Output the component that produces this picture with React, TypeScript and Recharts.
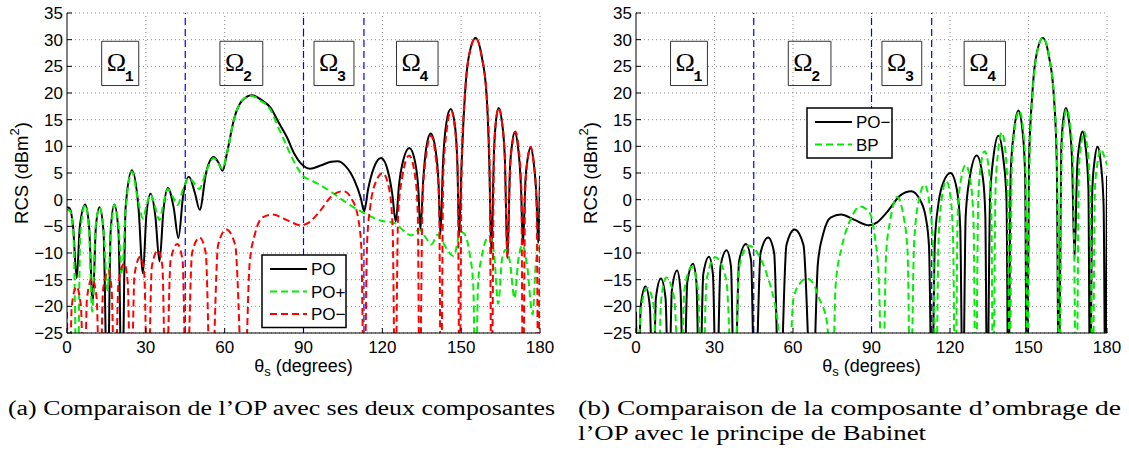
import React from 'react';
import {
  LineChart, Line, XAxis, YAxis, CartesianGrid, ReferenceLine, ReferenceArea, Label
} from 'recharts';

type Pt = [number, number];

// (theta_s in degrees, RCS in dBm2); -40 marks a null below the axis floor
const po: Pt[] = [
  [0, -1.4], [1, -1.6], [2.3, -5], [3.7, -14.7], [4.9, -5], [6.9, -0.9], [8.4, -5], [9.8, -19.5],
  [11, -5], [12.4, -1.4], [13.9, -6], [15.4, -40], [16.6, -6], [18, -0.9], [19.6, -6], [20.9, -40],
  [22.3, -1.5], [24.7, 5.5], [27.2, -1.5], [28.9, -13.8], [30.2, -3], [31.8, 1.1], [33.6, -3],
  [35.2, -11.6], [36.7, -2], [38.4, 2.2], [40.6, -1.5], [42.4, -7.2], [44.2, 0.8], [46.4, 4.3],
  [48.7, 1.2], [50.5, -1.9], [53, 5.2], [55.8, 8], [57.8, 6.8], [59.2, 5.4], [61, 9], [63.5, 15],
  [66.5, 18.5], [70.3, 19.6], [74, 18.7], [77.5, 17.2], [80.5, 14.5], [83.8, 11.6], [86.5, 8.6],
  [89, 6.8], [92.5, 5.8], [96.5, 6.4], [100.5, 7.1], [103, 7.2], [106, 6.3], [109.3, 3.7],
  [111.8, 0.3], [113.1, -2.2], [114.6, 2], [116.8, 6], [119.5, 7.8], [122.3, 5], [123.8, 1],
  [125.1, -4.1], [126.4, 3], [128, 7.5], [130.3, 9.7], [132.5, 7], [133.7, 2], [134.5, -5.6],
  [135.6, 4], [136.8, 10], [138.4, 12.4], [140.2, 9.5], [141.4, 3], [142.1, -6.6], [143.1, 7],
  [144.4, 14.5], [146, 17], [147.6, 14], [148.6, 6], [149.2, -6.9], [150.2, 7], [151.4, 19.4],
  [152.7, 26.2], [155.5, 30.3], [157.8, 26.9], [159.7, 19.4], [160.7, 7], [161.5, -10], [162.5, 9],
  [163.3, 15], [164.3, 17.2], [165.4, 15], [166.6, 8], [167.6, -10.9], [168.6, 6], [169.4, 10.5],
  [170.4, 12.6], [171.6, 10], [172.8, 2], [173.5, -8.4], [174.5, 4], [175.4, 8], [176.4, 9.7],
  [177.6, 7], [178.7, 0], [179.3, -8.1], [180, 4.5],
];

const poPlus: Pt[] = [
  [0, -1.9], [1, -2], [2.4, -6], [3.9, -40], [5.1, -6], [6.9, -1], [8.3, -5], [9.6, -21],
  [10.9, -5], [12.4, -1.5], [13.9, -5.5], [15.4, -17], [16.8, -5.5], [18, -1], [19.6, -5],
  [20.9, -14], [22.3, -2], [24.7, 5.3], [27, 0], [28.9, -3.5], [30.3, -1], [31.8, 1], [33.6, -1.5],
  [35.2, -3.8], [36.8, -0.5], [38.4, 2], [40.3, 0.5], [42, -1], [44.2, 2], [46.4, 4.1], [48.5, 3],
  [50.3, 2], [53, 5.3], [55.8, 7.8], [57.6, 6.8], [59.2, 5.8], [61, 9], [63.5, 15], [66.5, 18.5],
  [70, 19.5], [73.5, 18.6], [77.5, 16.8], [80, 14], [82.3, 11.5], [86, 7.5], [89.9, 4.4], [93, 3.6],
  [96.2, 2.8], [101.3, 1.2], [106.4, -0.6], [113, -2.5], [120, -4], [124.8, -4.4], [128, -5.8],
  [131, -6.7], [134, -5.6], [136.8, -7.3], [138.7, -8.4], [141, -6.6], [142.5, -7.5], [144.7, -9.4],
  [147.2, -10.6], [149.7, -6], [151, -6.3], [153.2, -10], [154.6, -16], [155.5, -40], [156.4, -16],
  [157.7, -11], [160.7, -6.8], [162.5, -10], [164.1, -19.5], [165.6, -11], [167, -9.4],
  [168.5, -11.5], [170.3, -18.5], [171.7, -11.5], [173.3, -8.5], [175, -12], [177.2, -21.5],
  [178.4, -12], [179.4, -9], [180, -9.2],
];

const poMinus: Pt[] = [
  [0, -21], [0.8, -40], [1.8, -20], [3.6, -16.3], [5.3, -20], [6.5, -40], [7.6, -18.5], [9.5, -14.8],
  [11.3, -18.5], [12.5, -40], [13.7, -17], [15.7, -13.3], [17, -17], [18.2, -40], [19.6, -15.5],
  [21.8, -12], [23.1, -15.5], [24.3, -40], [25.7, -14], [27.9, -10.7], [29.4, -14], [30.7, -40],
  [32.3, -12.5], [34.6, -9.5], [36.3, -12.5], [37.6, -40], [39.4, -11.5], [42, -8.3], [44, -11.5],
  [45.4, -40], [47.6, -10], [50.5, -7.1], [52.8, -10], [54.8, -40], [57.5, -8.5], [60.6, -5.6],
  [64, -8.5], [67.3, -40], [69.5, -12], [71.5, -6.5], [74.5, -3.3], [78.3, -2.8], [83.5, -3.8],
  [89, -4.8], [92, -4.3], [96, -2.3], [101, 0.8], [105.2, 1.6], [108.5, 0], [110.8, -3.5], [112, -9],
  [113.1, -40], [114.2, -8], [115.5, -1], [117.5, 3.3], [120.2, 5], [122.6, 2], [123.9, -5],
  [124.9, -40], [126, -3], [127.5, 4], [130.2, 8.3], [132.6, 4], [133.5, -3], [134.2, -40],
  [135.3, 0], [136.6, 8], [138.5, 12], [140.3, 8], [141.6, 0], [142.3, -40], [143.2, 5], [144.5, 13],
  [146.1, 16.7], [147.7, 13], [148.7, 5], [149.4, -40], [150.2, 7], [151.4, 19.4], [152.7, 26.2],
  [155.5, 30.3], [157.8, 26.9], [159.7, 19.4], [160.8, 7], [161.6, -40], [162.5, 9], [163.3, 15],
  [164.3, 17.2], [165.4, 15], [166.6, 8], [167.6, -11], [168.6, 6], [169.5, 10.5], [170.6, 12.8],
  [171.8, 10], [172.9, 2], [173.5, -40], [174.4, 2], [175.3, 7.5], [176.4, 9.9], [177.6, 7],
  [178.7, -1], [179.4, -40], [180, 4.5],
];

const bp: Pt[] = [
  [0.5, -40], [1.8, -21], [4.3, -16.5], [6.8, -20], [8.3, -40], [9.6, -19], [11.6, -14.6],
  [14.6, -18.5], [16.9, -40], [18.5, -17], [21.3, -12.6], [23.7, -17], [25.2, -40], [27, -15],
  [30.3, -10.8], [34.5, -15], [37.3, -40], [39.5, -12.5], [43, -8.6], [47, -10.5], [50, -14],
  [53.9, -22], [57.7, -40], [60.2, -18.5], [63, -15.5], [65.3, -14.8], [67.5, -15.5], [70, -18.5],
  [73, -23], [74.9, -40], [76.3, -16], [78.7, -8.8], [81.9, -3.8], [85.7, -1.3], [89.3, -2.5],
  [91.3, -7], [92.8, -15], [94.2, -40], [95.6, -10], [97.2, -3.8], [99.7, 0.5], [102.4, -3.5],
  [103.8, -10], [104.9, -40], [106.3, -8], [108.4, 0.6], [110.3, 2.8], [112.2, -1], [113.6, -10],
  [114.6, -40], [115.6, -8], [117, 0.8], [118.6, 3.5], [120.2, 0.5], [121.2, -8], [122, -40],
  [123, -2], [124.3, 4], [126, 6.5], [127.8, 3.5], [129, -4], [129.8, -40], [130.8, 0], [131.8, 6.5],
  [133.2, 9.1], [134.8, 6], [135.8, -2], [136.5, -40], [137.4, 2], [138.4, 9], [139.8, 12.6],
  [141.2, 9], [142.1, 0], [142.8, -40], [143.6, 6], [144.8, 13.5], [146.5, 16.7], [148, 13],
  [148.9, 5], [149.6, -40], [150.4, 7], [151.5, 19.4], [152.8, 26.2], [155.5, 30.4], [158, 26.5],
  [159.8, 19], [160.9, 7], [161.8, -40], [162.7, 9], [163.5, 14.5], [164.6, 17], [165.8, 14.5],
  [167, 7], [168.3, -40], [169.3, 6], [170.2, 10.5], [171.2, 12.8], [172.4, 10], [173.6, 0],
  [174.5, -40], [175.4, 2], [176.4, 7], [177.7, 9.5], [179, 8], [180, 6.5],
];

const xTicks = [0, 30, 60, 90, 120, 150, 180];
const yTicks = [-25, -20, -15, -10, -5, 0, 5, 10, 15, 20, 25, 30, 35];
const zoneLimits = [45, 90, 113];
const omegaZones = [
  { n: '1', x1: 13.2, x2: 27.3 },
  { n: '2', x1: 58.2, x2: 74.5 },
  { n: '3', x1: 94, x2: 109.2 },
  { n: '4', x1: 125.4, x2: 141.2 },
];
const omegaY: [number, number] = [21.4, 29.7];

const SANS = 'Liberation Sans, Arial, Helvetica, sans-serif';
const SERIF = 'Liberation Serif, Times New Roman, serif';
const GRID = '#8a8a8a';

const toRows = (pts: Pt[]) => pts.map(([x, y]) => ({ x, y }));
const fmtY = (v: number) => (v < 0 ? '\u2212' + Math.abs(v) : String(v));

const OmegaLabel = (props: any) => {
  const { x, y } = props.viewBox;
  return (
    <g>
      <text x={x + 5} y={y + 30} fontFamily={SERIF} fontSize={26} fill="#000">Ω</text>
      <text x={x + 23} y={y + 40} fontFamily="Liberation Mono, monospace" fontWeight="bold" fontSize={15} fill="#000">
        {props.n}
      </text>
    </g>
  );
};

const YTitle = (props: any) => {
  const { x, y, height } = props.viewBox;
  const cx = x + 14;
  const cy = y + height / 2;
  return (
    <text x={cx} y={cy} transform={`rotate(-90 ${cx} ${cy})`} textAnchor="middle" dominantBaseline="central"
      fontFamily={SANS} fontSize={18.5} fill="#000">
      RCS (dBm<tspan dy={-7} fontSize={13}>2</tspan><tspan dy={7}>)</tspan>
    </text>
  );
};

const XTitle = (props: any) => {
  const { x, y, width } = props.viewBox;
  return (
    <text x={x + width / 2} y={y + 39} textAnchor="middle" fontFamily={SANS} fontSize={18} fill="#000">
      θ<tspan dy={4} fontSize={13}>s</tspan><tspan dy={-4}> (degrees)</tspan>
    </text>
  );
};

type Series = { pts: Pt[]; color: string; dash?: string; name: string };

const Panel = ({ left, width, series }: { left: number; width: number; series: Series[] }) => (
  <div style={{ position: 'absolute', left, top: 0 }}>
    <LineChart width={width} height={380} margin={{ top: 13, right: 20, bottom: 17, left: 7 }}>
      <CartesianGrid stroke={GRID} strokeDasharray="1 3" vertical={false} />
      {xTicks.slice(1).map((t) => (
        <ReferenceLine key={'g' + t} x={t} stroke={GRID} strokeDasharray="1 3" />
      ))}
      <XAxis type="number" dataKey="x" domain={[0, 180]} ticks={xTicks} interval={0} allowDataOverflow
        height={30} tickSize={-5} tickMargin={13} axisLine={{ stroke: '#000' }} tickLine={{ stroke: '#000' }}
        tick={{ fill: '#000', fontSize: 17, fontFamily: SANS }}>
        <Label content={<XTitle />} />
      </XAxis>
      <YAxis type="number" domain={[-25, 35]} ticks={yTicks} interval={0} allowDataOverflow width={60}
        tickSize={-5} tickMargin={9} tickFormatter={fmtY} axisLine={{ stroke: '#000' }} tickLine={{ stroke: '#000' }}
        tick={{ fill: '#000', fontSize: 17, fontFamily: SANS }}>
        <Label content={<YTitle />} />
      </YAxis>
      {zoneLimits.map((z) => (
        <ReferenceLine key={z} x={z} stroke="#0000ff" strokeWidth={1.2} strokeDasharray="7 4" />
      ))}
      {omegaZones.map((o) => (
        <ReferenceArea key={o.n} x1={o.x1} x2={o.x2} y1={omegaY[0]} y2={omegaY[1]} fill="#fff" fillOpacity={1}
          stroke="#333" strokeWidth={1} label={<OmegaLabel n={o.n} />} />
      ))}
      {series.map((s) => (
        <Line key={s.name} data={toRows(s.pts)} dataKey="y" name={s.name} type="monotone" stroke={s.color}
          strokeWidth={2} strokeDasharray={s.dash} dot={false} activeDot={false} isAnimationActive={false} />
      ))}
    </LineChart>
  </div>
);

const LegendBox = ({ x, y, w, items }: { x: number; y: number; w: number; items: Series[] }) => {
  const rowH = 22.5;
  const h = items.length * rowH + 5;
  return (
    <g>
      <rect x={x} y={y} width={w} height={h} fill="#fff" stroke="#000" strokeWidth={1.5} />
      {items.map((s, i) => {
        const cy = y + 14 + i * rowH;
        return (
          <g key={s.name}>
            <line x1={x + 8} x2={x + 45} y1={cy} y2={cy} stroke={s.color} strokeWidth={2} strokeDasharray={s.dash} />
            <text x={x + 49} y={cy + 6} fontFamily={SANS} fontSize={17} fill="#000">{s.name}</text>
          </g>
        );
      })}
    </g>
  );
};

const GREEN = '#00ee00';
const RED = '#ff0000';
const DASH = '7 4';

export default function App() {
  const leftSeries: Series[] = [
    { pts: po, color: '#000', name: 'PO' },
    { pts: poPlus, color: GREEN, dash: DASH, name: 'PO+' },
    { pts: poMinus, color: RED, dash: DASH, name: 'PO\u2212' },
  ];
  const rightSeries: Series[] = [
    { pts: poMinus, color: '#000', name: 'PO\u2212' },
    { pts: bp, color: GREEN, dash: DASH, name: 'BP' },
  ];
  return (
    <div style={{ position: 'absolute', left: 0, top: 0, width: 1129, height: 455, background: '#fff' }}>
      <Panel left={0} width={560} series={leftSeries} />
      <Panel left={569} width={558} series={rightSeries} />
      <svg width={1129} height={455} style={{ position: 'absolute', left: 0, top: 0, pointerEvents: 'none' }}>
        <LegendBox x={262} y={255} w={84} items={leftSeries} />
        <LegendBox x={807} y={108} w={85} items={rightSeries} />
        <g fontFamily={SERIF} fontSize={20} fill="#000">
          <text x={8} y={415} textLength={547} lengthAdjust="spacingAndGlyphs">
            (a) Comparaison de l’OP avec ses deux composantes
          </text>
          <text x={578} y={415} textLength={543} lengthAdjust="spacingAndGlyphs">
            (b) Comparaison de la composante d’ombrage de
          </text>
          <text x={578} y={440} textLength={348} lengthAdjust="spacingAndGlyphs">
            l’OP avec le principe de Babinet
          </text>
        </g>
      </svg>
    </div>
  );
}
